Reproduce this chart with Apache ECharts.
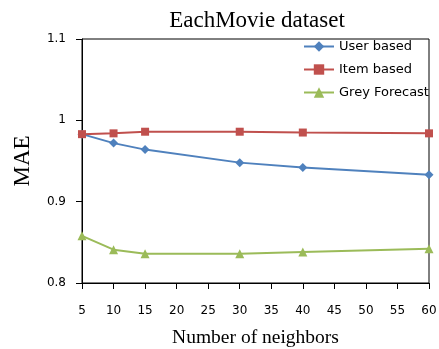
<!DOCTYPE html>
<html>
<head>
<meta charset="utf-8">
<script src="https://cdn.jsdelivr.net/npm/echarts@6/dist/echarts.min.js"></script>
<style>
  html, body { margin: 0; padding: 0; background: #fff; }
  #main { width: 439px; height: 349px; }
</style>
</head>
<body>
<div id="main"></div>
<script>
  // number of neighbors
  const neighbors = [5, 10, 15, 30, 40, 60];
  // MAE per method
  const userBased = [0.983, 0.972, 0.964, 0.948, 0.942, 0.933];
  const itemBased = [0.983, 0.984, 0.986, 0.986, 0.985, 0.984];
  const greyForecast = [0.858, 0.841, 0.836, 0.836, 0.838, 0.842];

  const pairs = (ys) => neighbors.map((x, i) => [x, ys[i]]);

  let chart = echarts.init(document.getElementById('main'));
  let serif = '"Liberation Serif", "DejaVu Serif", serif';
  let sans = '"DejaVu Sans", sans-serif';

  let option = {
    animation: false,
    title: {
      text: 'EachMovie dataset',
      left: 252,
      textAlign: 'center',
      top: 4,
      textStyle: { fontFamily: serif, fontSize: 23, fontWeight: 'normal', color: '#000' }
    },
    legend: {
      orient: 'vertical',
      left: 303,
      top: 40,
      padding: 0,
      itemWidth: 30,
      itemHeight: 13,
      itemGap: 10,
      textStyle: { fontFamily: sans, fontSize: 13, color: '#000' },
      data: ['User based', 'Item based', 'Grey Forecast']
    },
    grid: {
      left: 82, right: 10, top: 39, bottom: 66,
      outerBoundsMode: 'none',
      show: true, borderColor: '#000', borderWidth: 1
    },
    xAxis: {
      type: 'value',
      min: 5, max: 60, interval: 5,
      name: 'Number of neighbors',
      nameLocation: 'middle',
      nameGap: 45,
      nameTextStyle: { fontFamily: serif, fontSize: 19.5, color: '#000' },
      axisLine: { lineStyle: { color: '#000', width: 1 } },
      axisTick: { length: 6, lineStyle: { color: '#000' } },
      axisLabel: { margin: 22, fontFamily: sans, fontSize: 12, color: '#000' },
      splitLine: { show: false }
    },
    yAxis: {
      type: 'value',
      min: 0.8, max: 1.1, interval: 0.1,
      name: 'MAE',
      nameLocation: 'middle',
      nameGap: 48,
      nameTextStyle: { fontFamily: serif, fontSize: 23, color: '#000' },
      axisLine: { show: true, lineStyle: { color: '#000', width: 1 } },
      axisTick: { show: true, length: 6, lineStyle: { color: '#000' } },
      axisLabel: { margin: 16, fontFamily: sans, fontSize: 12, color: '#000' },
      splitLine: { show: false }
    },
    series: [
      {
        name: 'User based',
        type: 'line',
        data: pairs(userBased),
        symbol: 'diamond',
        symbolSize: 9,
        lineStyle: { color: '#4F81BD', width: 2 },
        itemStyle: { color: '#4F81BD' }
      },
      {
        name: 'Item based',
        type: 'line',
        data: pairs(itemBased),
        symbol: 'rect',
        symbolSize: 8,
        lineStyle: { color: '#C0504D', width: 2 },
        itemStyle: { color: '#C0504D' }
      },
      {
        name: 'Grey Forecast',
        type: 'line',
        data: pairs(greyForecast),
        symbol: 'triangle',
        symbolSize: 9,
        lineStyle: { color: '#9BBB59', width: 2 },
        itemStyle: { color: '#9BBB59' }
      }
    ]
  };
  chart.setOption(option);
</script>
</body>
</html>
